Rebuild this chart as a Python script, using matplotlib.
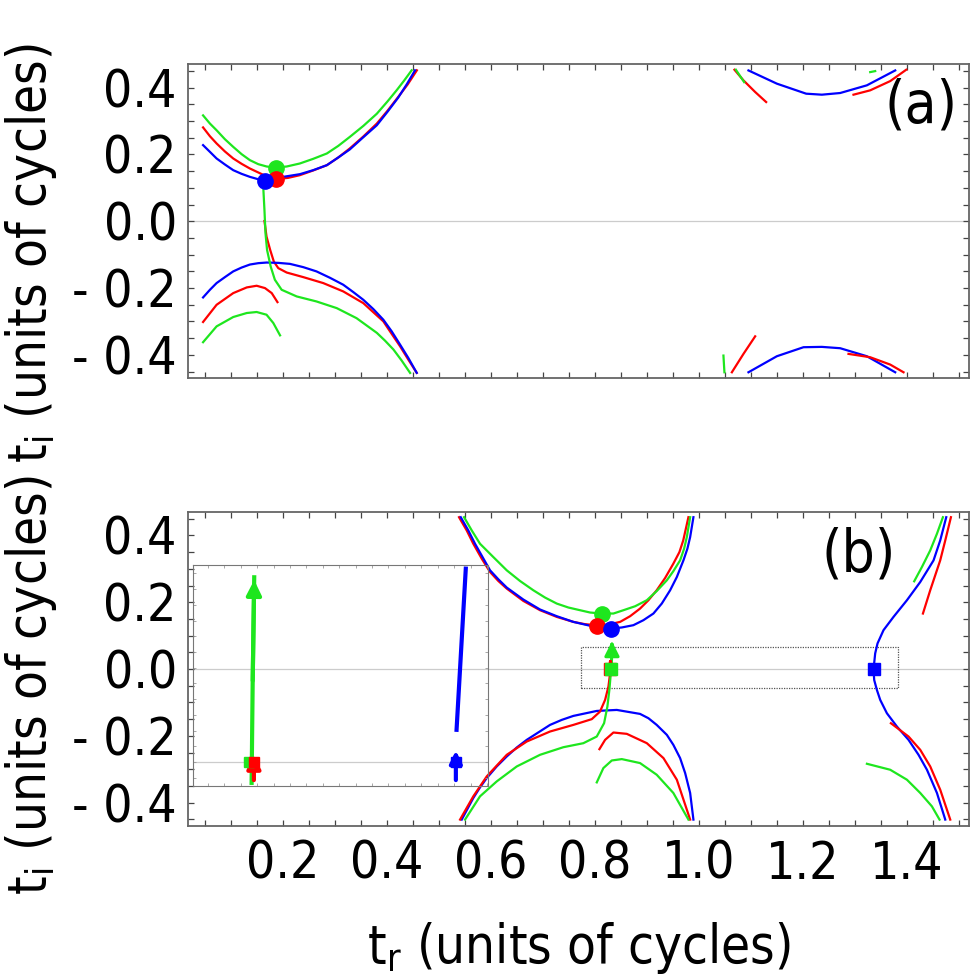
import numpy as np
import matplotlib
matplotlib.use("Agg")
import matplotlib.pyplot as plt
from matplotlib.patches import Rectangle
from matplotlib.ticker import MultipleLocator

RED = "#ff0000"
GREEN = "#1ee61e"
BLUE = "#0000ff"

# ---------------- panel (a) curves ----------------
a_up_green_x = [0.047, 0.0602, 0.073, 0.089, 0.105, 0.1211, 0.137, 0.1531, 0.1692, 0.187, 0.2077, 0.233,
                0.2588, 0.285, 0.3069, 0.329, 0.355, 0.381, 0.4012, 0.419, 0.4338, 0.448]
a_up_green_y = [0.317, 0.2925, 0.2725, 0.2457, 0.2227, 0.2009, 0.183, 0.171, 0.164, 0.161, 0.164, 0.173,
                0.187, 0.203, 0.2257, 0.2525, 0.2854, 0.322, 0.3582, 0.392, 0.4218, 0.452]
a_up_red_x = [0.047, 0.0602, 0.073, 0.089, 0.105, 0.1211, 0.137, 0.1627, 0.188, 0.2108, 0.233, 0.2588,
              0.285, 0.3069, 0.329, 0.355, 0.381, 0.4012, 0.422, 0.4404, 0.458]
a_up_red_y = [0.281, 0.2546, 0.233, 0.209, 0.188, 0.172, 0.158, 0.1391, 0.126, 0.1301, 0.138, 0.1522,
              0.168, 0.191, 0.218, 0.2537, 0.2925, 0.3302, 0.372, 0.4099, 0.452]
a_up_blue_x = [0.047, 0.0602, 0.073, 0.089, 0.105, 0.1211, 0.137, 0.15, 0.166, 0.1819, 0.201, 0.233,
               0.2588, 0.285, 0.3069, 0.329, 0.355, 0.381, 0.4012, 0.422, 0.4385, 0.4545]
a_up_blue_y = [0.228, 0.2078, 0.188, 0.170, 0.153, 0.142, 0.133, 0.1272, 0.121, 0.1254, 0.133, 0.141,
               0.1531, 0.168, 0.191, 0.215, 0.2516, 0.2875, 0.3272, 0.37, 0.4099, 0.452]

a_mid_green_x = [0.163, 0.165, 0.167, 0.170, 0.177, 0.185, 0.198, 0.227, 0.265, 0.304, 0.342, 0.381,
                 0.3967, 0.413, 0.4288, 0.445]
a_mid_green_y = [0.0934, 0.0337, -0.0358, -0.0857, -0.1355, -0.175, -0.205, -0.225, -0.24, -0.26, -0.29,
                 -0.334, -0.3573, -0.384, -0.417, -0.454]
a_mid_red_x = [0.165, 0.169, 0.176, 0.183, 0.1916, 0.2077, 0.2397, 0.278, 0.3165, 0.355, 0.3935, 0.4063,
               0.4256, 0.4415, 0.4577]
a_mid_red_y = [0.001, -0.046, -0.0857, -0.1205, -0.1403, -0.1534, -0.1672, -0.185, -0.21, -0.245, -0.2995,
               -0.3295, -0.374, -0.414, -0.4537]
a_low_blue_x = [0.047, 0.0602, 0.073, 0.089, 0.105, 0.1211, 0.137, 0.1531, 0.1692, 0.1915, 0.214, 0.2396,
                0.265, 0.291, 0.3165, 0.3358, 0.355, 0.3742, 0.3935, 0.4096, 0.4256, 0.4415, 0.4577]
a_low_blue_y = [-0.228, -0.2051, -0.185, -0.1672, -0.150, -0.1385, -0.1295, -0.1254, -0.1235, -0.1245,
                -0.1275, -0.1373, -0.150, -0.1692, -0.190, -0.212, -0.235, -0.2627, -0.2946, -0.3295,
                -0.369, -0.409, -0.4537]
a_low_red_x = [0.047, 0.073, 0.105, 0.131, 0.150, 0.166, 0.179, 0.190]
a_low_red_y = [-0.3015, -0.25, -0.215, -0.198, -0.193, -0.200, -0.215, -0.242]
a_low_green_x = [0.047, 0.073, 0.105, 0.131, 0.150, 0.169, 0.182, 0.195]
a_low_green_y = [-0.362, -0.3146, -0.2866, -0.2746, -0.2716, -0.2797, -0.3045, -0.3415]

# right hand side of (a)
a_r_up_blue_x = [1.0954, 1.15, 1.2063, 1.2365, 1.2717, 1.323, 1.3775]
a_r_up_blue_y = [0.4516, 0.412, 0.382, 0.379, 0.384, 0.407, 0.4516]
a_r_up_red1_x = [1.0685, 1.0858, 1.1083, 1.1294]
a_r_up_red1_y = [0.4537, 0.4218, 0.387, 0.357]
a_r_up_green1_x = [1.0712, 1.0871]
a_r_up_green1_y = [0.4537, 0.4167]
a_r_up_red2_x = [1.2973, 1.3294, 1.3679, 1.3987]
a_r_up_red2_y = [0.379, 0.392, 0.4197, 0.4537]
a_r_up_green2_x = [1.3294, 1.339]
a_r_up_green2_y = [0.4466, 0.4496]
a_r_low_green_x = [1.0473, 1.0492]
a_r_low_green_y = [-0.402, -0.452]
a_r_low_red1_x = [1.0635, 1.0858, 1.1083]
a_r_low_red1_y = [-0.452, -0.397, -0.3444]
a_r_low_blue_x = [1.0954, 1.15, 1.2012, 1.2365, 1.2717, 1.323, 1.3775]
a_r_low_blue_y = [-0.452, -0.404, -0.377, -0.376, -0.380, -0.404, -0.452]
a_r_low_red2_x = [1.2877, 1.3294, 1.3679, 1.3935]
a_r_low_red2_y = [-0.397, -0.407, -0.429, -0.452]

# saddle points (a): green, red, blue
a_dot_x = [0.187, 0.188, 0.166]
a_dot_y = [0.161, 0.126, 0.121]

# ---------------- panel (b) curves ----------------
b_up_red_x = [0.539, 0.5538, 0.5665, 0.5827, 0.5987, 0.6146, 0.6308, 0.6627, 0.6948, 0.7269, 0.7588, 0.7813,
              0.8038, 0.8262, 0.8487, 0.8679, 0.887, 0.9031, 0.919, 0.9352, 0.951, 0.9627, 0.970, 0.980]
b_up_red_y = [0.4546, 0.4149, 0.375, 0.3304, 0.2905, 0.2636, 0.2408, 0.2039, 0.1761, 0.1561, 0.1412, 0.1343,
              0.1313, 0.1333, 0.1412, 0.1582, 0.181, 0.206, 0.2358, 0.2726, 0.3155, 0.3502, 0.385, 0.4546]
b_up_blue_x = [0.5423, 0.5569, 0.5698, 0.5987, 0.6146, 0.6308, 0.6627, 0.6948, 0.7269, 0.7588, 0.7942, 0.8308,
               0.8519, 0.8742, 0.8935, 0.9127, 0.9288, 0.9448, 0.9577, 0.9704, 0.978, 0.9833, 0.9896]
b_up_blue_y = [0.4546, 0.4149, 0.375, 0.2955, 0.2687, 0.2439, 0.208, 0.1782, 0.1582, 0.1412, 0.1284, 0.1214,
               0.1245, 0.1313, 0.1463, 0.1662, 0.1961, 0.2358, 0.2755, 0.3254, 0.3603, 0.395, 0.4546]
b_up_green_x = [0.5487, 0.5635, 0.5794, 0.605, 0.6308, 0.6563, 0.6819, 0.7044, 0.7269, 0.7492, 0.7717, 0.791,
                0.8135, 0.8358, 0.855, 0.8775, 0.900, 0.9192, 0.9385, 0.9512, 0.964, 0.9717, 0.9769, 0.9833]
b_up_green_y = [0.4546, 0.4149, 0.375, 0.3352, 0.2955, 0.2636, 0.2358, 0.214, 0.196, 0.1842, 0.1761, 0.1692,
                0.1662, 0.1662, 0.1761, 0.188, 0.206, 0.2337, 0.2657, 0.2934, 0.3254, 0.3603, 0.395, 0.4546]

b_low_green_x = [0.8308, 0.828, 0.8242, 0.8179, 0.8038, 0.778, 0.7396, 0.6948, 0.650, 0.6115, 0.5794, 0.5506]
b_low_green_y = [-0.013, -0.0627, -0.1125, -0.162, -0.202, -0.222, -0.234, -0.2567, -0.2916, -0.3364, -0.381, -0.4507]
b_low_red_x = [0.8294, 0.8262, 0.8198, 0.810, 0.7942, 0.7588, 0.714, 0.6692, 0.6308, 0.5923, 0.5665, 0.541]
b_low_red_y = [-0.013, -0.0527, -0.0925, -0.1274, -0.150, -0.1672, -0.187, -0.217, -0.2567, -0.3214, -0.381, -0.4507]
b_low_blue_x = [0.5442, 0.5665, 0.5794, 0.5923, 0.6115, 0.6308, 0.65, 0.6692, 0.714, 0.7365, 0.7588, 0.8038,
                0.8423, 0.887, 0.9031, 0.919, 0.9385, 0.951, 0.964, 0.9737, 0.9833, 0.9896]
b_low_blue_y = [-0.4507, -0.386, -0.3543, -0.3264, -0.2916, -0.2617, -0.2349, -0.212, -0.1672, -0.1522, -0.1403,
                -0.1254, -0.1224, -0.1343, -0.1472, -0.1672, -0.197, -0.2269, -0.2666, -0.3114, -0.371, -0.4507]
b_arc_red_x = [0.8089, 0.8198, 0.8358, 0.8615, 0.900, 0.932, 0.9577, 0.9833]
b_arc_red_y = [-0.2398, -0.212, -0.190, -0.194, -0.2219, -0.2666, -0.3313, -0.4507]
b_arc_green_x = [0.8038, 0.8165, 0.8327, 0.8519, 0.887, 0.919, 0.951, 0.980]
b_arc_green_y = [-0.3393, -0.2965, -0.2737, -0.2696, -0.2815, -0.3164, -0.371, -0.4507]

b_s_blue_x = [1.4756, 1.464, 1.4512, 1.4256, 1.400, 1.3742, 1.355, 1.3435, 1.339, 1.3358, 1.3371,
              1.3423, 1.3487, 1.3615, 1.3808, 1.4031, 1.4223, 1.4385, 1.4577, 1.4737]
b_s_blue_y = [0.4546, 0.385, 0.3254, 0.2606, 0.206, 0.1561, 0.1164, 0.0767, 0.0469, -0.001, -0.0328,
              -0.0627, -0.0925, -0.1323, -0.1722, -0.2119, -0.2567, -0.3015, -0.371, -0.4507]
b_r_up_red_x = [1.4846, 1.4737, 1.464, 1.4448, 1.4308]
b_r_up_red_y = [0.4546, 0.385, 0.3254, 0.2358, 0.1662]
b_r_up_green_x = [1.4692, 1.4577, 1.4448, 1.4288, 1.414]
b_r_up_green_y = [0.4546, 0.405, 0.3552, 0.3054, 0.2627]
b_r_low_red_x = [1.3692, 1.4031, 1.4256, 1.4448, 1.464, 1.4833]
b_r_low_red_y = [-0.1622, -0.202, -0.2418, -0.2916, -0.3612, -0.4507]
b_r_low_green_x = [1.3231, 1.3679, 1.400, 1.4256, 1.448, 1.4627]
b_r_low_green_y = [-0.2836, -0.3015, -0.3313, -0.371, -0.411, -0.4507]

# saddle points (b): green, red, blue
b_dot_x = [0.8135, 0.8038, 0.8308]
b_dot_y = [0.166, 0.128, 0.121]
# starting points on the real axis (green, red, blue)
b_sq_x = [0.8315, 0.8300, 1.336]
b_sq_y = [0.0, 0.0, 0.0]
# arrows (start -> tip)
b_arrow_green = [(0.8330, 0.06), (0.8330, 0.092)]
b_arrow_red = [(0.8300, 0.012), (0.8300, 0.037)]

# zoom window drawn in (b) and the inset placed on it
zoom_box = [0.773, -0.058, 0.609, 0.123]
inset_box = [0.028, -0.349, 0.567, 0.659]
inset_xlim = [0.684, 1.403]
inset_ylim = [-0.006, 0.05]
in_green_x = [0.8264, 0.8290, 0.8328]
in_green_y = [-0.0053, 0.02, 0.047]
in_red_arrow = [(0.832, -0.0053), (0.832, 0.0025)]
in_blue_x = [1.326, 1.3485]
in_blue_y = [0.0082, 0.0492]
in_blue_arrow = [(1.3243, -0.0053), (1.3243, 0.0036)]
in_sq_x = [0.8206, 0.832, 1.3243]
in_sq_y = [0.0, 0.0, 0.0]

ytick_vals = [-0.4, -0.2, 0.0, 0.2, 0.4]
ytick_text = ["- 0.4", "- 0.2", "0.0", "0.2", "0.4"]
xtick_vals = [0.2, 0.4, 0.6, 0.8, 1.0, 1.2, 1.4]
xtick_text = ["0.2", "0.4", "0.6", "0.8", "1.0", "1.2", "1.4"]

plt.rcParams["font.family"] = ["DejaVu Sans"]
plt.rcParams["font.stretch"] = "condensed"
plt.rcParams["mathtext.default"] = "regular"

fig = plt.figure(figsize=(9.75, 9.8), dpi=100)
ax_a = fig.add_axes([0.1928, 0.614, 0.8014, 0.3204])
ax_b = fig.add_axes([0.1928, 0.1571, 0.8014, 0.3204])

LW = 1.6


def style_axis(ax, show_x):
    ax.set_xlim(0.018, 1.52)
    ax.set_ylim(-0.47, 0.47)
    ax.axhline(0, color="#cccccc", lw=0.9, zorder=0)
    ax.set_yticks(ytick_vals)
    ax.set_yticklabels(ytick_text)
    ax.set_xticks(xtick_vals)
    if show_x:
        ax.set_xticklabels(xtick_text)
    else:
        ax.set_xticklabels([])
    ax.xaxis.set_minor_locator(MultipleLocator(0.05))
    ax.yaxis.set_minor_locator(MultipleLocator(0.05))
    ax.tick_params(which="both", direction="in", top=True, right=True,
                   length=4, width=0.9, color="#444444", labelsize=37)
    ax.tick_params(axis="x", pad=10)
    ax.tick_params(axis="y", pad=8)
    for s in ax.spines.values():
        s.set_color("#666666")
        s.set_linewidth(1.3)
    ax.set_ylabel("t$_{i}$ (units of cycles)", fontsize=38)


style_axis(ax_a, False)
style_axis(ax_b, True)
ax_a.yaxis.set_label_coords(-0.165, 0.40)
ax_b.yaxis.set_label_coords(-0.165, 0.45)

# panel (a)
ax_a.plot(a_up_red_x, a_up_red_y, color=RED, lw=LW)
ax_a.plot(a_up_blue_x, a_up_blue_y, color=BLUE, lw=LW)
ax_a.plot(a_up_green_x, a_up_green_y, color=GREEN, lw=LW)
ax_a.plot(a_mid_red_x, a_mid_red_y, color=RED, lw=LW)
ax_a.plot(a_low_blue_x, a_low_blue_y, color=BLUE, lw=LW)
ax_a.plot(a_mid_green_x, a_mid_green_y, color=GREEN, lw=LW)
ax_a.plot(a_low_red_x, a_low_red_y, color=RED, lw=LW)
ax_a.plot(a_low_green_x, a_low_green_y, color=GREEN, lw=LW)
for xs, ys, c in [(a_r_up_blue_x, a_r_up_blue_y, BLUE), (a_r_up_red1_x, a_r_up_red1_y, RED),
                  (a_r_up_green1_x, a_r_up_green1_y, GREEN), (a_r_up_red2_x, a_r_up_red2_y, RED),
                  (a_r_up_green2_x, a_r_up_green2_y, GREEN), (a_r_low_green_x, a_r_low_green_y, GREEN),
                  (a_r_low_red1_x, a_r_low_red1_y, RED), (a_r_low_blue_x, a_r_low_blue_y, BLUE),
                  (a_r_low_red2_x, a_r_low_red2_y, RED)]:
    ax_a.plot(xs, ys, color=c, lw=LW)
for x, y, c in zip(a_dot_x, a_dot_y, [GREEN, RED, BLUE]):
    ax_a.plot(x, y, "o", color=c, ms=11, zorder=5)
ax_a.text(0.9385, 0.867, "(a)", transform=ax_a.transAxes, fontsize=42,
          ha="center", va="center")

# panel (b)
ax_b.plot(b_up_red_x, b_up_red_y, color=RED, lw=LW)
ax_b.plot(b_up_blue_x, b_up_blue_y, color=BLUE, lw=LW)
ax_b.plot(b_up_green_x, b_up_green_y, color=GREEN, lw=LW)
ax_b.plot(b_low_blue_x, b_low_blue_y, color=BLUE, lw=LW)
ax_b.plot(b_low_red_x, b_low_red_y, color=RED, lw=LW)
ax_b.plot(b_low_green_x, b_low_green_y, color=GREEN, lw=LW)
ax_b.plot(b_arc_red_x, b_arc_red_y, color=RED, lw=LW)
ax_b.plot(b_arc_green_x, b_arc_green_y, color=GREEN, lw=LW)
ax_b.plot(b_s_blue_x, b_s_blue_y, color=BLUE, lw=LW)
ax_b.plot(b_r_up_red_x, b_r_up_red_y, color=RED, lw=LW)
ax_b.plot(b_r_up_green_x, b_r_up_green_y, color=GREEN, lw=LW)
ax_b.plot(b_r_low_red_x, b_r_low_red_y, color=RED, lw=LW)
ax_b.plot(b_r_low_green_x, b_r_low_green_y, color=GREEN, lw=LW)

ax_b.plot([b_sq_x[0], b_arrow_green[0][0]], [b_sq_y[0], b_arrow_green[0][1]], color=GREEN, lw=2.2)
ax_b.annotate("", xy=b_arrow_green[1], xytext=b_arrow_green[0],
              arrowprops=dict(arrowstyle="-|>", color=GREEN, lw=2.2, mutation_scale=22))
ax_b.annotate("", xy=b_arrow_red[1], xytext=b_arrow_red[0],
              arrowprops=dict(arrowstyle="-|>", color=RED, lw=2.2, mutation_scale=18))
for x, y, c in zip(b_sq_x[::-1], b_sq_y[::-1], [BLUE, RED, GREEN]):
    ax_b.plot(x, y, "s", color=c, ms=8, zorder=5)
for x, y, c in zip(b_dot_x, b_dot_y, [GREEN, RED, BLUE]):
    ax_b.plot(x, y, "o", color=c, ms=11, zorder=5)

ax_b.add_patch(Rectangle((zoom_box[0], zoom_box[1]), zoom_box[2], zoom_box[3],
                         fill=False, ls=(0, (1, 1)), lw=0.9, ec="#555555"))

ax_in = ax_b.inset_axes(inset_box, transform=ax_b.transData)
ax_in.set_facecolor("none")
ax_in.set_xlim(inset_xlim)
ax_in.set_ylim(inset_ylim)
ax_in.axhline(0, color="#cccccc", lw=0.9, zorder=0)
ax_in.xaxis.set_major_locator(MultipleLocator(0.04))
ax_in.yaxis.set_major_locator(MultipleLocator(0.004))
ax_in.tick_params(direction="in", top=True, right=True, length=2.5, width=0.6,
                  color="#999999", labelbottom=False, labelleft=False)
for s in ax_in.spines.values():
    s.set_color("#777777")
    s.set_linewidth(0.8)
    s.set_linestyle((0, (1, 1)))
ax_in.plot(in_green_x, in_green_y, color=GREEN, lw=3)
ax_in.annotate("", xy=(in_green_x[-1], in_green_y[-1]), xytext=(in_green_x[-2], in_green_y[-2]),
               arrowprops=dict(arrowstyle="-|>", color=GREEN, lw=3, mutation_scale=22))
ax_in.annotate("", xy=in_red_arrow[1], xytext=in_red_arrow[0],
               arrowprops=dict(arrowstyle="-|>", color=RED, lw=3, mutation_scale=20))
ax_in.plot(in_blue_x, in_blue_y, color=BLUE, lw=3)
ax_in.annotate("", xy=in_blue_arrow[1], xytext=in_blue_arrow[0],
               arrowprops=dict(arrowstyle="-|>", color=BLUE, lw=3, mutation_scale=18))
for x, y, c in zip(in_sq_x, in_sq_y, [GREEN, RED, BLUE]):
    ax_in.plot(x, y, "s", color=c, ms=7, zorder=5)

ax_b.text(0.858, 0.863, "(b)", transform=ax_b.transAxes, fontsize=42,
          ha="center", va="center")
ax_b.set_xlabel("t$_{r}$ (units of cycles)", fontsize=38)
ax_b.xaxis.set_label_coords(0.5, -0.3)

fig.savefig("out.png", dpi=100)
